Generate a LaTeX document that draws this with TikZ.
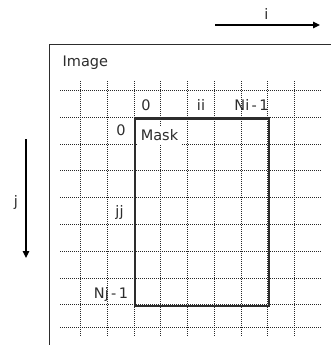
\documentclass[tikz,border=0pt]{standalone}
\usepackage{fontspec}
\setmainfont{DejaVu Sans}
\usetikzlibrary{arrows.meta, positioning}
\definecolor{inkgray}{RGB}{45,45,45}
\definecolor{dotgray}{RGB}{40,40,40}

\begin{document}
\begin{tikzpicture}[
  x=1pt, y=-1pt,
  lbl/.style  = {inner sep=0pt, anchor=base, text=inkgray, font=\fontsize{14.5}{14.5}\selectfont},
  frame/.style = {rectangle, draw=inkgray, line width=1.3pt, anchor=north west, inner sep=0pt},
  maskbox/.style = {rectangle, draw=inkgray, line width=2.4pt, anchor=north west, inner sep=0pt},
  gridln/.style = {draw=dotgray, line width=0.9pt, dash pattern=on 1pt off 1pt},
  arr/.style  = {-{Triangle[length=7pt,width=6.5pt]}, line width=1.1pt, color=black}
]
\useasboundingbox (0,0) rectangle (331,345);
\begin{scope}
\clip (0,0) rectangle (331,345);
\node[frame, minimum width=300pt, minimum height=320pt] (image) at (48.5,44) {};
\end{scope}
\node[lbl, anchor=base west] (imglbl) at (62.5,66.5) {Image};

%% dotted grid
\foreach \gx in {80.5,107.25,134,160.75,187.5,214.25,241,267.75,294.5}
  \draw[gridln] (\gx,81) -- (\gx,337);
\foreach \gy in {90.5,117.3,144.1,170.9,197.7,224.5,251.3,278.1,304.9,327.3}
  \draw[gridln] (60,\gy) -- (322,\gy);

%% mask
\node[maskbox, minimum width=133.75pt, minimum height=187.6pt] (mask) at (134,117.3) {};
\node[lbl, anchor=center, fill=white, minimum width=45pt, minimum height=19pt] (masklbl) at (159.5,135) {Mask};

%% indices
\node[lbl] (i0)   at (146,110.5)   {0};
\node[lbl] (ii)   at (201,110.5)   {ii};
\node[lbl] (ni)   at (251.5,110.5) {Ni\,-\,1};
\node[lbl] (j0)   at (121,135)     {0};
\node[lbl] (jj)   at (119.5,216)   {jj};
\node[lbl] (nj)   at (111,298.5)   {Nj\,-\,1};

%% axes
\coordinate (istart) at (215,25);
\coordinate (iend)   at (320,25);
\coordinate (jstart) at (26,139);
\coordinate (jend)   at (26,258);
\draw[arr] (istart) -- (iend);
\draw[arr] (jstart) -- (jend);
\node[lbl] (ilbl) at (266.5,20)  {i};
\node[lbl] (jlbl) at (16,206)    {j};
\end{tikzpicture}
\end{document}
